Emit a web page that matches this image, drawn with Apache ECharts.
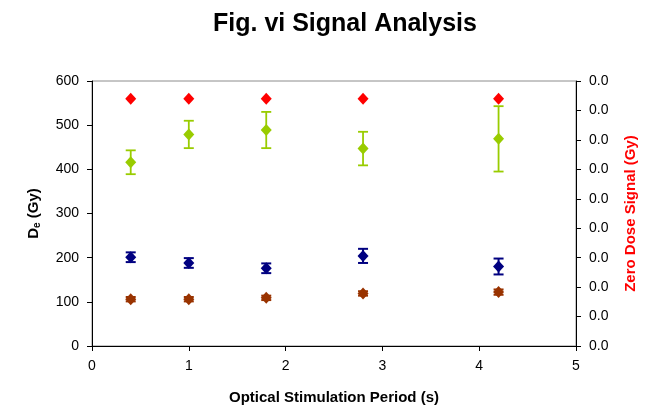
<!DOCTYPE html>
<html>
<head>
<meta charset="utf-8">
<script src="https://cdn.jsdelivr.net/npm/echarts@6/dist/echarts.min.js"></script>
<style>
  html, body { margin: 0; padding: 0; background: #fff; }
  #chart { width: 651px; height: 413px; }
</style>
</head>
<body>
<div id="chart"></div>
<script>
// Stimulation periods (s)
const periods = [0.4, 1.0, 1.8, 2.8, 4.2];

// Equivalent dose estimates (Gy) with their uncertainties
const greenDe = [416, 479, 489, 447, 469];
const greenErr = [27, 31, 41, 38, 74];
const blueDe = [201, 188, 176, 204, 180];
const blueErr = [11, 11, 11, 16, 18];
const brownDe = [106, 106, 109, 119, 122];
const brownErr = [5, 5, 5, 5, 6];

// Zero dose signal (Gy), read on the right axis
const zeroDose = [0.0084, 0.0084, 0.0084, 0.0084, 0.0084];

const FONT = '"Liberation Sans", Arial, sans-serif';

function pts(vals) { return periods.map((x, i) => [x, vals[i]]); }
function errData(vals, errs) { return periods.map((x, i) => [x, vals[i] - errs[i], vals[i] + errs[i]]); }

function errorSeries(vals, errs, color, width) {
  return {
    type: 'custom',
    yAxisIndex: 0,
    data: errData(vals, errs),
    z: 2,
    renderItem: function (params, api) {
      const x = api.value(0);
      const lo = api.coord([x, api.value(1)]);
      const hi = api.coord([x, api.value(2)]);
      const cap = 5;
      const style = { stroke: color, lineWidth: width };
      return {
        type: 'group',
        children: [
          { type: 'line', shape: { x1: lo[0], y1: lo[1], x2: hi[0], y2: hi[1] }, style },
          { type: 'line', shape: { x1: lo[0] - cap, y1: lo[1], x2: lo[0] + cap, y2: lo[1] }, style },
          { type: 'line', shape: { x1: hi[0] - cap, y1: hi[1], x2: hi[0] + cap, y2: hi[1] }, style }
        ]
      };
    }
  };
}

function pointSeries(vals, color, axis) {
  return {
    type: 'scatter',
    yAxisIndex: axis,
    data: pts(vals),
    symbol: 'diamond',
    symbolSize: [11, 12],
    itemStyle: { color: color, opacity: 1 },
    z: 3
  };
}

const chart = echarts.init(document.getElementById('chart'), null, { renderer: 'canvas' });

chart.setOption({
  animation: false,
  backgroundColor: '#ffffff',
  title: {
    text: 'Fig. vi Signal Analysis',
    left: 208,
    top: 7,
    textStyle: { fontFamily: FONT, fontSize: 25, fontWeight: 'bold', color: '#000' }
  },
  grid: {
    left: 92, right: 75, top: 81, bottom: 67,
    show: true, borderColor: '#8c8c8c', borderWidth: 1
  },
  xAxis: {
    type: 'value',
    min: 0, max: 5, interval: 1,
    name: 'Optical Stimulation Period (s)',
    nameLocation: 'middle',
    nameGap: 44,
    nameTextStyle: { fontFamily: FONT, fontSize: 15, fontWeight: 'bold', color: '#000' },
    axisLine: { show: true, onZero: false, lineStyle: { color: '#000', width: 1 } },
    axisTick: { show: true, length: 5, lineStyle: { color: '#000' } },
    axisLabel: { fontFamily: FONT, fontSize: 14, color: '#000', margin: 13 },
    splitLine: { show: false }
  },
  yAxis: [
    {
      type: 'value',
      min: 0, max: 600, interval: 100,
      name: '{m|D}{s|e}{m| (Gy)}',
      nameLocation: 'middle',
      nameGap: 50,
      nameRotate: 90,
      nameTextStyle: {
        fontFamily: FONT, fontSize: 15, fontWeight: 'bold', color: '#000',
        rich: {
          m: { fontFamily: FONT, fontSize: 15, fontWeight: 'bold', color: '#000' },
          s: { fontFamily: FONT, fontSize: 10, fontWeight: 'bold', color: '#000', verticalAlign: 'bottom', padding: [7, 0, 0, 0] }
        }
      },
      axisLine: { show: true, lineStyle: { color: '#000', width: 1 } },
      axisTick: { show: true, length: 5, lineStyle: { color: '#000' } },
      axisLabel: { fontFamily: FONT, fontSize: 14, color: '#000', margin: 13 },
      splitLine: { show: false }
    },
    {
      type: 'value',
      position: 'right',
      min: 0, max: 0.009, interval: 0.001,
      name: 'Zero Dose Signal (Gy)',
      nameLocation: 'middle',
      nameGap: 47,
      nameRotate: 90,
      nameTextStyle: { fontFamily: FONT, fontSize: 15, fontWeight: 'bold', color: '#ff0000' },
      axisLine: { show: true, lineStyle: { color: '#000', width: 1 } },
      axisTick: { show: true, length: 5, lineStyle: { color: '#000' } },
      axisLabel: {
        fontFamily: FONT, fontSize: 14, color: '#000', margin: 13,
        formatter: v => v.toFixed(1)
      },
      splitLine: { show: false }
    }
  ],
  series: [
    errorSeries(greenDe, greenErr, '#99cc00', 1.8),
    errorSeries(blueDe, blueErr, '#000080', 2),
    errorSeries(brownDe, brownErr, '#993300', 2),
    pointSeries(greenDe, '#99cc00', 0),
    pointSeries(blueDe, '#000080', 0),
    pointSeries(brownDe, '#993300', 0),
    pointSeries(zeroDose, '#ff0000', 1)
  ]
});
</script>
</body>
</html>
